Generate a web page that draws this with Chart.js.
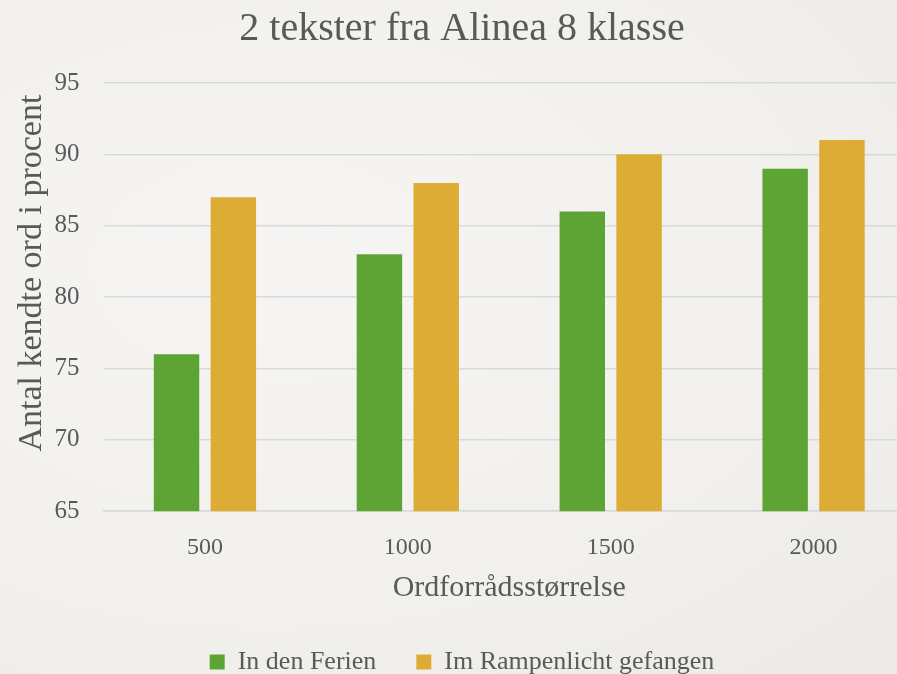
<!DOCTYPE html>
<html><head><meta charset="utf-8">
<script src="https://cdn.jsdelivr.net/npm/chart.js@4"></script>
<style>
html,body{margin:0;padding:0;overflow:hidden;width:897px;height:674px;background:radial-gradient(ellipse at 30% 40%,#f6f5f3 0%,#f1f0ed 60%,#eceae6 100%);}
#wrap{position:absolute;left:0;top:0;width:928px;height:685px;}
</style></head><body>
<div id="wrap"><canvas id="c" width="928" height="685"></canvas></div>
<script>
const categories = ['500','1000','1500','2000'];
const seriesNames = ['In den Ferien','Im Rampenlicht gefangen'];
const ferien = [76, 83, 86, 89];
const rampenlicht = [87, 88, 90, 91];
const titleText = '2 tekster fra Alinea 8 klasse';
const xTitle = 'Ordforrådsstørrelse';
const yTitle = 'Antal kendte ord i procent';

const FONT = "'Liberation Serif', serif";
const TXT = '#595959';

const yTitlePlugin = {
  id: 'yTitle',
  afterDraw(chart) {
    const {ctx, chartArea} = chart;
    ctx.save();
    ctx.translate(32, (chartArea.top + chartArea.bottom) / 2 - 24);
    ctx.rotate(-Math.PI / 2);
    ctx.fillStyle = TXT;
    ctx.font = "34px " + FONT;
    ctx.textAlign = 'center';
    ctx.textBaseline = 'middle';
    ctx.fillText(yTitle, 0, 0);
    ctx.restore();
  }
};

new Chart(document.getElementById('c'), {
  type: 'bar',
  data: {
    labels: categories,
    datasets: [
      {label: seriesNames[0], data: ferien, backgroundColor: '#5ea435', categoryPercentage: 0.56, barPercentage: 0.8},
      {label: seriesNames[1], data: rampenlicht, backgroundColor: '#ddac35', categoryPercentage: 0.56, barPercentage: 0.8}
    ]
  },
  plugins: [yTitlePlugin],
  options: {
    responsive: false,
    animation: false,
    layout: {padding: {top: 5, right: 13, bottom: 0, left: 9}},
    plugins: {
      title: {display: true, text: titleText, color: TXT, font: {family: FONT, size: 40, weight: 'normal'}, padding: {top: 0, bottom: 30}},
      legend: {position: 'bottom', labels: {color: TXT, font: {family: FONT, size: 26}, boxWidth: 15, boxHeight: 15, padding: 40}},
      tooltip: {enabled: false}
    },
    scales: {
      x: {
        grid: {display: false, drawTicks: false},
        border: {color: '#d9d9d9', width: 1.5},
        ticks: {color: TXT, font: {family: FONT, size: 24}, padding: 22},
        title: {display: true, text: xTitle, color: TXT, font: {family: FONT, size: 30}, padding: {top: -14, bottom: 3}}
      },
      y: {
        min: 65, max: 95,
        afterFit(scale) { scale.width += 21.5; },
        ticks: {stepSize: 5, color: TXT, font: {family: FONT, size: 25}, padding: 24},
        grid: {color: '#d9d9d9', lineWidth: 1.5, drawTicks: false},
        border: {display: false}
      }
    }
  }
});
</script></body></html>
